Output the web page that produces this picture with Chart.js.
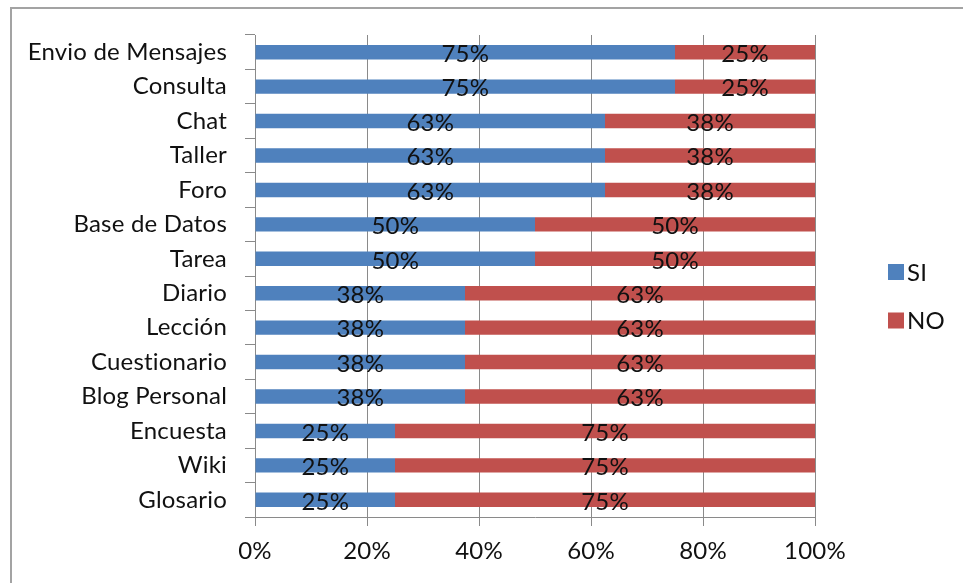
<!DOCTYPE html>
<html lang="es">
<head>
<meta charset="utf-8">
<title>Recursos y actividades</title>
<script src="https://cdn.jsdelivr.net/npm/chart.js@4.4.0/dist/chart.umd.min.js"></script>
<style>
  body { margin: 0; background: #fff; }
  #marco { position: relative; width: 963px; height: 583px; overflow: hidden; }
  #borde { position: absolute; left: 10px; top: 7px; width: 1000px; height: 700px;
           border-left: 2px solid #a3a3a3; border-top: 2px solid #a3a3a3; }
  canvas { position: absolute; left: 0; top: 0; }
</style>
</head>
<body>
<div id="marco">
  <div id="borde"></div>
  <canvas id="grafico" width="963" height="583"></canvas>
</div>
<script>
// categorias, de arriba hacia abajo
let recursos = ["Envio de Mensajes", "Consulta", "Chat", "Taller", "Foro", "Base de Datos", "Tarea",
                "Diario", "Lección", "Cuestionario", "Blog Personal", "Encuesta", "Wiki", "Glosario"];
// porcentajes de cada respuesta
let si = [75, 75, 62.5, 62.5, 62.5, 50, 50, 37.5, 37.5, 37.5, 37.5, 25, 25, 25];
let no = [25, 25, 37.5, 37.5, 37.5, 50, 50, 62.5, 62.5, 62.5, 62.5, 75, 75, 75];
let marcasX = [0, 20, 40, 60, 80, 100];

let fuente = "Lato";
let tamFuente = 24;
let colorTexto = "#111";
let azul = "#4f81bd";
let rojo = "#c0504d";
let gris = "#8a8a8a";

// sin ligaduras ("ti" en Cuestionario)
const sinLigaduras = {
  id: "sinLigaduras",
  beforeDraw(chart) {
    chart.ctx.letterSpacing = "0.2px";
  }
};

// texto con el porcentaje en el centro de cada tramo
const etiquetas = {
  id: "etiquetas",
  afterDatasetsDraw(chart) {
    let ctx = chart.ctx;
    ctx.save();
    ctx.font = tamFuente + "px " + fuente;
    ctx.fillStyle = colorTexto;
    ctx.textAlign = "center";
    ctx.textBaseline = "middle";
    chart.data.datasets.forEach(function(ds, i) {
      chart.getDatasetMeta(i).data.forEach(function(barra, j) {
        let centro = (barra.x + barra.base) / 2;
        ctx.fillText(Math.round(ds.data[j]) + "%", centro, barra.y + 2);
      });
    });
    ctx.restore();
  }
};

// leyenda a la derecha, una entrada debajo de la otra
const leyenda = {
  id: "leyenda",
  afterDraw(chart) {
    let ctx = chart.ctx;
    let x = chart.chartArea.right + 73;
    let y = 272;
    let paso = 48.5;
    ctx.save();
    ctx.font = tamFuente + "px " + fuente;
    ctx.textBaseline = "middle";
    chart.data.datasets.forEach(function(ds, i) {
      ctx.fillStyle = ds.backgroundColor;
      ctx.fillRect(x, y + i * paso - 8, 16, 16);
      ctx.fillStyle = colorTexto;
      ctx.fillText(ds.label, x + 19, y + i * paso + 1);
    });
    ctx.restore();
  }
};

var ctx = document.getElementById("grafico").getContext("2d");

var grafico = new Chart(ctx, {
  type: "bar",
  data: {
    labels: recursos,
    datasets: [
      { label: "SI", data: si, backgroundColor: azul, categoryPercentage: 1, barPercentage: 0.42 },
      { label: "NO", data: no, backgroundColor: rojo, categoryPercentage: 1, barPercentage: 0.42 }
    ]
  },
  options: {
    indexAxis: "y",
    responsive: false,
    animation: false,
    layout: { padding: { top: 35, right: 148, bottom: 0, left: 0 } },
    plugins: {
      legend: { display: false },
      tooltip: { enabled: false }
    },
    scales: {
      x: {
        stacked: true,
        min: 0,
        max: 100,
        afterBuildTicks: function(scale) {
          scale.ticks = marcasX.map(function(v) { return { value: v }; });
        },
        afterFit: function(scale) { scale.height = 66; },
        ticks: {
          callback: function(v) { return v + "%"; },
          font: { family: fuente, size: tamFuente },
          color: colorTexto,
          padding: 11,
          maxRotation: 0
        },
        grid: { color: gris, lineWidth: 1, tickLength: 9 },
        border: { color: gris, width: 1 }
      },
      y: {
        stacked: true,
        afterFit: function(scale) { scale.width = 255; },
        ticks: {
          font: { family: fuente, size: tamFuente },
          color: colorTexto,
          padding: 18
        },
        grid: { drawOnChartArea: false, color: gris, tickLength: 10 },
        border: { color: gris, width: 1 }
      }
    }
  },
  plugins: [sinLigaduras, etiquetas, leyenda]
});
</script>
</body>
</html>
